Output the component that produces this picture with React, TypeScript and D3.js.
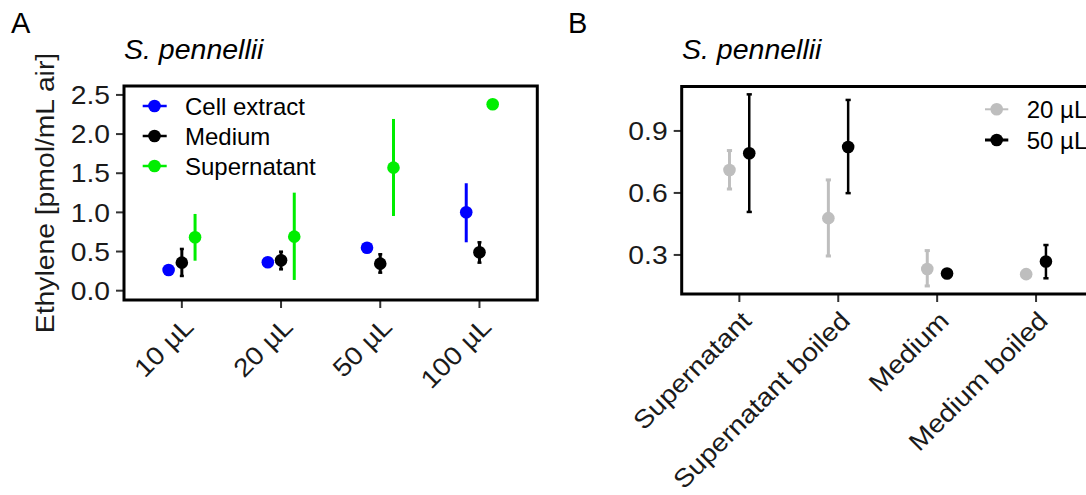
import React from "react";
import * as d3 from "d3";

// Panel A: ethylene by dose for three sample types
const doses = ["10 µL", "20 µL", "50 µL", "100 µL"];
const seriesA = ["Cell extract", "Medium", "Supernatant"];
const colorsA = ["#0000ff", "#000000", "#00ee00"];

const cellMean = [0.264, 0.363, 0.549, 1.001];
const cellLow = [0.264, 0.363, 0.549, 0.618];
const cellHigh = [0.264, 0.363, 0.549, 1.372];

const mediumMean = [0.358, 0.388, 0.345, 0.49];
const mediumLow = [0.188, 0.273, 0.23, 0.358];
const mediumHigh = [0.533, 0.498, 0.465, 0.618];

const superMean = [0.682, 0.69, 1.571, 2.38];
const superLow = [0.383, 0.137, 0.954, 2.38];
const superHigh = [0.98, 1.252, 2.193, 2.38];

const ticksA = [0, 0.5, 1.0, 1.5, 2.0, 2.5];

// Panel B: ethylene by treatment for two volumes
const treatments = ["Supernatant", "Supernatant boiled", "Medium", "Medium boiled"];
const seriesB = ["20 µL", "50 µL"];
const colorsB = ["#bebebe", "#000000"];

const vol20Mean = [0.711, 0.478, 0.232, 0.207];
const vol20Low = [0.619, 0.295, 0.15, 0.207];
const vol20High = [0.805, 0.663, 0.321, 0.207];

const vol50Mean = [0.792, 0.822, 0.21, 0.268];
const vol50Low = [0.508, 0.599, 0.21, 0.187];
const vol50High = [1.077, 1.05, 0.21, 0.348];

const ticksB = [0.3, 0.6, 0.9];

const FONT = "'Liberation Sans', Arial, Helvetica, sans-serif";
const AXIS_SIZE = 25.5;
const AXIS_STRETCH = 1.11;

type Row = { cat: string; mean: number; low: number; high: number };

function rows(cats: string[], mean: number[], low: number[], high: number[]): Row[] {
  return cats.map((c, i) => ({ cat: c, mean: mean[i], low: low[i], high: high[i] }));
}

const dataA = [
  rows(doses, cellMean, cellLow, cellHigh),
  rows(doses, mediumMean, mediumLow, mediumHigh),
  rows(doses, superMean, superLow, superHigh),
];
const capsA = [0, 4, 0];

const dataB = [
  rows(treatments, vol20Mean, vol20Low, vol20High),
  rows(treatments, vol50Mean, vol50Low, vol50High),
];

const R = 6.3;

// Axis text: slightly widened sans-serif, placed at (x, y) with optional rotation
function AxisText(props: {
  x: number;
  y: number;
  rotate?: number;
  anchor: "start" | "middle" | "end";
  dy?: string;
  size?: number;
  children: React.ReactNode;
}) {
  const { x, y, rotate = 0, anchor, dy, size = AXIS_SIZE, children } = props;
  return (
    <text
      transform={`translate(${x},${y}) rotate(${rotate}) scale(${AXIS_STRETCH},1)`}
      textAnchor={anchor}
      dy={dy}
      fontSize={size}
      fill="#1a1a1a"
    >
      {children}
    </text>
  );
}

export default function App() {
  // panel A geometry
  const aL = 124, aR = 537.3, aT = 86, aB = 300;
  const xA = d3.scalePoint<string>().domain(doses).range([aL, aR]).padding(0.583);
  const yA = d3.scaleLinear().domain([-0.119, 2.614]).range([aB, aT]);
  const stepA = xA.step();
  const dodgeA = (i: number) => (i - 1) * stepA * 0.1333;

  // panel B geometry
  const bL = 681.7, bT = 86.5, bB = 294;
  const stepB0 = 98.9;
  const bR = bL + stepB0 * 4.166;
  const xB = d3.scalePoint<string>().domain(treatments).range([bL, bR]).padding(0.583);
  const yB = d3.scaleLinear().domain([0.111, 1.115]).range([bB, bT]);
  const stepB = xB.step();
  const dodgeB = (i: number) => (i - 0.5) * stepB * 0.2;

  return (
    <svg
      width={1086}
      height={495}
      style={{ position: "absolute", left: 0, top: 0, background: "#fff", overflow: "hidden" }}
      fontFamily={FONT}
    >
      <rect x={0} y={0} width={1086} height={495} fill="#fff" />

      {/* ---------- Panel A ---------- */}
      <text x={11} y={33} fontSize={29} fill="#000">A</text>
      <text x={124} y={59} fontSize={28.5} fontStyle="italic" fill="#000">S. pennellii</text>
      <AxisText x={53.5} y={(aT + aB) / 2} rotate={-90} anchor="middle" size={25.5}>
        Ethylene [pmol/mL air]
      </AxisText>

      {ticksA.map((t) => (
        <g key={`ya${t}`}>
          <line x1={aL - 8} x2={aL} y1={yA(t)} y2={yA(t)} stroke="#333" strokeWidth={2} />
          <AxisText x={aL - 14} y={yA(t)} anchor="end" dy="0.36em">
            {d3.format(".1f")(t)}
          </AxisText>
        </g>
      ))}
      {doses.map((d) => (
        <g key={`xa${d}`}>
          <line x1={xA(d)} x2={xA(d)} y1={aB} y2={aB + 8} stroke="#333" strokeWidth={2} />
          <AxisText x={xA(d) as number} y={aB + 15} rotate={-45} anchor="end" dy="0.74em">
            {d}
          </AxisText>
        </g>
      ))}

      {dataA.map((s, i) => (
        <g key={`sa${i}`}>
          {s.map((r) => {
            const cx = (xA(r.cat) as number) + dodgeA(i);
            return (
              <g key={r.cat}>
                {r.high > r.low && (
                  <line x1={cx} x2={cx} y1={yA(r.low)} y2={yA(r.high)} stroke={colorsA[i]} strokeWidth={3} />
                )}
                {r.high > r.low && capsA[i] > 0 && (
                  <g stroke={colorsA[i]} strokeWidth={2.5}>
                    <line x1={cx - capsA[i] / 2} x2={cx + capsA[i] / 2} y1={yA(r.low)} y2={yA(r.low)} />
                    <line x1={cx - capsA[i] / 2} x2={cx + capsA[i] / 2} y1={yA(r.high)} y2={yA(r.high)} />
                  </g>
                )}
                <circle cx={cx} cy={yA(r.mean)} r={R} fill={colorsA[i]} />
              </g>
            );
          })}
        </g>
      ))}

      {seriesA.map((name, i) => {
        const y = 106 + i * 30;
        return (
          <g key={`la${name}`}>
            <line x1={142.7} x2={166.7} y1={y} y2={y} stroke={colorsA[i]} strokeWidth={2.5} />
            <circle cx={154.5} cy={y} r={R} fill={colorsA[i]} />
            <text x={185} y={y} dy="0.36em" fontSize={24} fill="#000">{name}</text>
          </g>
        );
      })}

      <rect x={aL} y={aT} width={aR - aL} height={aB - aT} fill="none" stroke="#000" strokeWidth={3} />

      {/* ---------- Panel B ---------- */}
      <text x={568} y={33} fontSize={29} fill="#000">B</text>
      <text x={682} y={59} fontSize={28.5} fontStyle="italic" fill="#000">S. pennellii</text>

      {ticksB.map((t) => (
        <g key={`yb${t}`}>
          <line x1={bL - 8} x2={bL} y1={yB(t)} y2={yB(t)} stroke="#333" strokeWidth={2} />
          <AxisText x={bL - 14} y={yB(t)} anchor="end" dy="0.36em">
            {d3.format(".1f")(t)}
          </AxisText>
        </g>
      ))}
      {treatments.map((d) => (
        <g key={`xb${d}`}>
          <line x1={xB(d)} x2={xB(d)} y1={bB} y2={bB + 8} stroke="#333" strokeWidth={2} />
          <AxisText x={xB(d) as number} y={bB + 15} rotate={-45} anchor="end" dy="0.74em">
            {d}
          </AxisText>
        </g>
      ))}

      {dataB.map((s, i) => (
        <g key={`sb${i}`}>
          {s.map((r) => {
            const cx = (xB(r.cat) as number) + dodgeB(i);
            return (
              <g key={r.cat}>
                {r.high > r.low && (
                  <g stroke={colorsB[i]} strokeWidth={i === 0 ? 3 : 2.5}>
                    <line x1={cx} x2={cx} y1={yB(r.low)} y2={yB(r.high)} />
                    <line x1={cx - 2.6} x2={cx + 2.6} y1={yB(r.low)} y2={yB(r.low)} />
                    <line x1={cx - 2.6} x2={cx + 2.6} y1={yB(r.high)} y2={yB(r.high)} />
                  </g>
                )}
                <circle cx={cx} cy={yB(r.mean)} r={R} fill={colorsB[i]} />
              </g>
            );
          })}
        </g>
      ))}

      {seriesB.map((name, i) => {
        const y = 109.3 + i * 30.7;
        return (
          <g key={`lb${name}`}>
            <line x1={985} x2={1008.3} y1={y} y2={y} stroke={colorsB[i]} strokeWidth={i === 0 ? 2 : 3} />
            <circle cx={996.7} cy={y} r={R} fill={colorsB[i]} />
            <text x={1026.7} y={y} dy="0.36em" fontSize={24} fill="#000">{name}</text>
          </g>
        );
      })}

      <rect x={bL} y={bT} width={bR - bL} height={bB - bT} fill="none" stroke="#000" strokeWidth={3} />
    </svg>
  );
}
